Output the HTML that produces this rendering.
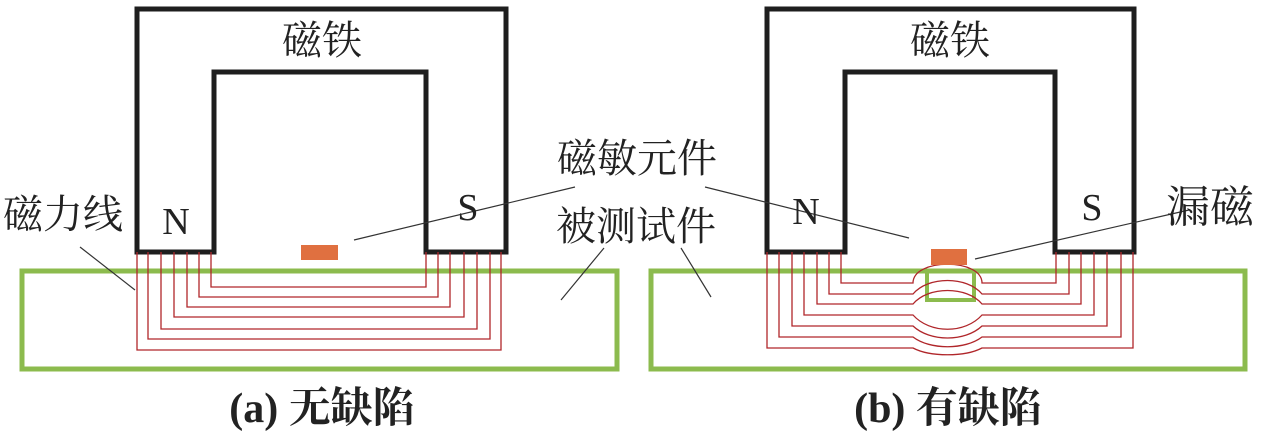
<!DOCTYPE html>
<html><head><meta charset="utf-8"><style>
html,body{margin:0;padding:0;background:#fff;}
svg{display:block;}
.cjk{font-family:"Liberation Serif","Noto Serif CJK SC","Noto Sans CJK SC",serif;fill:#222;}
</style></head><body>
<svg width="1280" height="435" viewBox="0 0 1280 435" xmlns="http://www.w3.org/2000/svg">
<!-- LEFT -->
<path d="M137,252 V9 H506 V252 H426 V72 H214 V252 Z" fill="none" stroke="#1e1e1e" stroke-width="5"/>
<rect x="22" y="271" width="595" height="98" fill="none" stroke="#8cbb4e" stroke-width="5"/>
<g fill="none" stroke="#b0262a" stroke-width="1.3">
<path d="M211,252 V287 H426 V252"/>
<path d="M199,252 V297 H438 V252"/>
<path d="M187,252 V307 H450 V252"/>
<path d="M174,252 V317 H464 V252"/>
<path d="M161,252 V329 H477 V252"/>
<path d="M148,252 V339 H490 V252"/>
<path d="M137,252 V350 H501 V252"/>
</g>
<rect x="301" y="245" width="37" height="15" fill="#e07040"/>
<g stroke="#333" stroke-width="1.2">
<line x1="80" y1="247" x2="135" y2="290"/>
<line x1="604" y1="248" x2="561" y2="300"/>
<line x1="575" y1="187" x2="354" y2="240"/>
</g>
<text x="322" y="54" font-size="40" text-anchor="middle" class="cjk">磁铁</text>
<text x="176" y="234" font-size="38" text-anchor="middle" class="cjk">N</text>
<text x="468" y="220" font-size="38" text-anchor="middle" class="cjk">S</text>
<text x="3" y="228" font-size="40" class="cjk">磁力线</text>
<text x="557" y="172" font-size="40" class="cjk">磁敏元件</text>
<text x="556" y="240" font-size="40" class="cjk">被测试件</text>
<text x="322" y="422" font-size="42" font-weight="bold" text-anchor="middle" class="cjk">(a) 无缺陷</text>

<!-- RIGHT -->
<path d="M767,252 V9 H1134 V252 H1055 V72 H845 V252 Z" fill="none" stroke="#1e1e1e" stroke-width="5"/>
<rect x="651" y="271" width="594" height="98" fill="none" stroke="#8cbb4e" stroke-width="5"/>
<rect x="927" y="271" width="47" height="29" fill="none" stroke="#8cbb4e" stroke-width="4"/>
<g fill="none" stroke="#b0262a" stroke-width="1.3">
<path d="M841,252 V283 H913 C913,258 982,258 982,283 H1056 V252"/>
<path d="M829,252 V294 H913 C928,276 967,276 982,294 H1069 V252"/>
<path d="M817,252 V304 H913 C928,286 967,286 982,304 H1081 V252"/>
<path d="M804,252 V315 H913 C930,334 965,334 982,315 H1094 V252"/>
<path d="M792,252 V326 H913 C930,342 965,342 982,326 H1107 V252"/>
<path d="M779,252 V337 H913 C930,350 965,350 982,337 H1121 V252"/>
<path d="M767,252 V348 H913 C930,357 965,357 982,348 H1133 V252"/>
</g>
<rect x="931" y="249" width="36" height="16" fill="#e07040"/>
<g stroke="#333" stroke-width="1.2">
<line x1="705" y1="187" x2="909" y2="238"/>
<line x1="1189" y1="210" x2="975" y2="259"/>
<line x1="681" y1="248" x2="711" y2="297"/>
</g>
<text x="950" y="54" font-size="40" text-anchor="middle" class="cjk">磁铁</text>
<text x="806" y="224" font-size="38" text-anchor="middle" class="cjk">N</text>
<text x="1092" y="220" font-size="38" text-anchor="middle" class="cjk">S</text>
<text x="1166" y="222" font-size="44" class="cjk">漏磁</text>
<text x="948" y="422" font-size="42" font-weight="bold" text-anchor="middle" class="cjk">(b) 有缺陷</text>
</svg>
</body></html>
